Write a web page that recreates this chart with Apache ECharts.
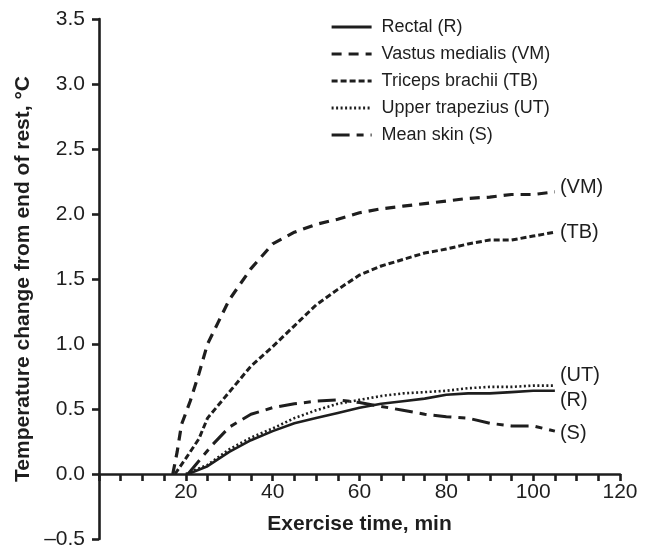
<!DOCTYPE html>
<html>
<head>
<meta charset="utf-8">
<script src="https://cdn.jsdelivr.net/npm/echarts@6/dist/echarts.min.js"></script>
<style>
html,body{margin:0;padding:0;background:#fff;}
#chart{width:651px;height:548px;}
</style>
</head>
<body>
<div id="chart"></div>
<script>
// ---- data ----
var xTicks = [0, 20, 40, 60, 80, 100, 120];
var yTicks = [-0.5, 0, 0.5, 1.0, 1.5, 2.0, 2.5, 3.0, 3.5];

var rectalTime = [20.5, 25, 30, 35, 40, 45, 50, 55, 60, 65, 70, 75, 80, 85, 90, 95, 100, 105];
var rectalVals = [0, 0.06, 0.17, 0.26, 0.33, 0.39, 0.43, 0.47, 0.51, 0.54, 0.56, 0.58, 0.61, 0.62, 0.62, 0.63, 0.64, 0.64];

var vmTime = [17, 18, 19, 21, 23, 25, 27.5, 30, 35, 40, 45, 50, 55, 60, 65, 70, 75, 80, 85, 90, 95, 100, 105];
var vmVals = [0, 0.17, 0.38, 0.56, 0.77, 1.0, 1.17, 1.34, 1.58, 1.77, 1.86, 1.92, 1.96, 2.01, 2.04, 2.06, 2.08, 2.10, 2.12, 2.13, 2.15, 2.15, 2.17];

var tbTime = [17.5, 20, 23, 25, 28, 32, 35, 40, 45, 50, 55, 60, 65, 70, 75, 80, 85, 90, 95, 100, 105];
var tbVals = [0, 0.12, 0.27, 0.43, 0.55, 0.71, 0.83, 0.98, 1.14, 1.30, 1.42, 1.53, 1.60, 1.65, 1.70, 1.73, 1.77, 1.80, 1.80, 1.83, 1.86];

var utTime = [20, 25, 30, 35, 40, 45, 50, 55, 60, 65, 70, 75, 80, 85, 90, 95, 100, 105];
var utVals = [0, 0.07, 0.19, 0.28, 0.35, 0.43, 0.49, 0.54, 0.57, 0.60, 0.62, 0.63, 0.64, 0.66, 0.67, 0.67, 0.68, 0.68];

var skinTime = [20.5, 23, 26, 30, 35, 40, 45, 50, 55, 60, 65, 70, 75, 80, 85, 90, 95, 100, 105];
var skinVals = [0, 0.10, 0.22, 0.36, 0.46, 0.51, 0.54, 0.56, 0.57, 0.55, 0.52, 0.49, 0.46, 0.44, 0.43, 0.39, 0.37, 0.37, 0.33];

var seriesNames = ['Rectal (R)', 'Vastus medialis (VM)', 'Triceps brachii (TB)', 'Upper trapezius (UT)', 'Mean skin (S)'];
var endTags = ['(R)', '(VM)', '(TB)', '(UT)', '(S)'];
var xName = 'Exercise time, min';
var yName = 'Temperature change from end of rest, \u00b0C';

// ---- build ----
function pairs(t, v) { return t.map(function (x, i) { return [x, v[i]]; }); }
var FONT = '"Liberation Sans", Arial, Helvetica, sans-serif';
var INK = '#1e1e1e';

var styles = [
  { type: 'solid', width: 2.6, off: [0, 10] },
  { type: [10, 7], width: 3.2, off: [0, -4] },
  { type: [6, 3], width: 3, off: [0, 0] },
  { type: [2, 2.5], width: 2.6, off: [0, -10] },
  { type: [18, 7, 7, 7], width: 3, off: [0, 2] }
];
var dataSets = [
  pairs(rectalTime, rectalVals),
  pairs(vmTime, vmVals),
  pairs(tbTime, tbVals),
  pairs(utTime, utVals),
  pairs(skinTime, skinVals)
];

var series = dataSets.map(function (d, i) {
  return {
    name: seriesNames[i],
    type: 'line',
    data: d,
    symbol: 'none',
    smooth: false,
    z: i === 0 ? 5 : 3,
    lineStyle: { color: INK, width: styles[i].width, type: styles[i].type, cap: 'butt' },
    itemStyle: { color: INK },
    endLabel: {
      show: true,
      formatter: endTags[i],
      distance: 5,
      offset: styles[i].off,
      color: INK,
      fontSize: 20,
      fontFamily: FONT
    },
    emphasis: { disabled: true },
    animation: false
  };
});

var chart = echarts.init(document.getElementById('chart'), null, { renderer: 'canvas' });
chart.setOption({
  backgroundColor: '#fff',
  animation: false,
  grid: { left: 99, right: 31, top: 19, bottom: 9, containLabel: false, outerBoundsMode: 'none' },
  legend: {
    orient: 'vertical',
    left: 325,
    top: 13,
    itemWidth: 40,
    itemHeight: 14,
    itemGap: 9,
    selectedMode: false,
    data: seriesNames,
    itemStyle: { opacity: 0 },
    lineStyle: { width: 3.2 },
    textStyle: { color: INK, fontSize: 18, lineHeight: 18, fontFamily: FONT, padding: [0, 0, 0, 5] }
  },
  xAxis: {
    type: 'value',
    min: 0,
    max: 120,
    interval: 20,
    position: 'bottom',
    offset: -65,
    name: xName,
    nameLocation: 'middle',
    nameGap: 40,
    nameTextStyle: { color: INK, fontSize: 21, fontWeight: 'bold', fontFamily: FONT },
    axisLine: { onZero: false, lineStyle: { color: INK, width: 2.6 } },
    axisTick: { show: true, length: 7, lineStyle: { color: INK, width: 2.6 } },
    minorTick: { show: true, splitNumber: 4, length: 7, lineStyle: { color: INK, width: 2.6 } },
    splitLine: { show: false },
    axisLabel: {
      color: INK, fontSize: 21, fontFamily: FONT, margin: 8,
      formatter: function (v) { return v === 0 ? '' : String(v); }
    }
  },
  yAxis: {
    type: 'value',
    min: -0.5,
    max: 3.5,
    interval: 0.5,
    name: yName,
    nameLocation: 'middle',
    nameGap: 62,
    nameRotate: 90,
    nameTextStyle: { color: INK, fontSize: 21, fontWeight: 'bold', fontFamily: FONT },
    axisLine: { show: true, onZero: false, lineStyle: { color: INK, width: 2.6 } },
    axisTick: { show: true, length: 7, lineStyle: { color: INK, width: 2.6 } },
    splitLine: { show: false },
    axisLabel: {
      color: INK, fontSize: 21, fontFamily: FONT, margin: 14,
      formatter: function (v) { return v < 0 ? '\u2013' + Math.abs(v).toFixed(1) : v.toFixed(1); }
    }
  },
  series: series
});
</script>
</body>
</html>
